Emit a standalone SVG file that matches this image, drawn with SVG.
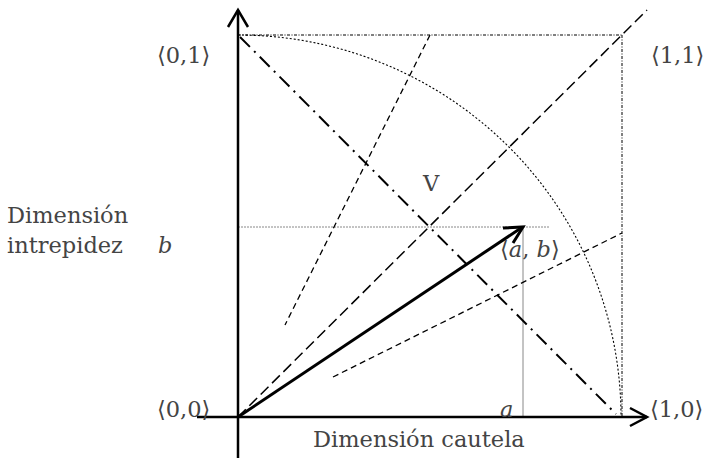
<svg xmlns="http://www.w3.org/2000/svg" width="705" height="460" viewBox="0 0 705 460">
<style>
text{font-family:"DejaVu Serif","Liberation Serif",serif;font-size:22.5px;fill:#444}
.it{font-style:italic}
.ax{stroke:#000;stroke-width:2.5;fill:none}
.guide{stroke:#000;stroke-width:1;fill:none;stroke-dasharray:3,1.5,1,1.5}
.arc{stroke:#000;stroke-width:1.1;fill:none;stroke-dasharray:2,2}
.gray{stroke:#888;stroke-width:1;fill:none}
.gdot{stroke:#888;stroke-width:1;fill:none;stroke-dasharray:2,1}
.dd{stroke:#000;stroke-width:2;fill:none;stroke-dasharray:14,6,2,6}
.ld{stroke:#000;stroke-width:1.5;fill:none;stroke-dasharray:11,5}
.sd{stroke:#000;stroke-width:1.3;fill:none;stroke-dasharray:6,4}
</style>
<rect width="705" height="460" fill="#fff"/>
<g id="connectors">
<path class="arc" d="M238,35 A383,382 0 0 1 621,417"/>
<line class="guide" x1="238" y1="35" x2="622" y2="35"/>
<line class="guide" x1="622" y1="35" x2="622" y2="417"/>
<line class="gdot" x1="238" y1="227" x2="550" y2="227"/>
<line class="gray" x1="523" y1="227" x2="523" y2="417"/>
<line class="dd" x1="240" y1="37" x2="616" y2="414"/>
<line class="ld" x1="238" y1="417" x2="647" y2="10"/>
<line class="sd" x1="430" y1="35" x2="285" y2="325"/>
<line class="sd" x1="333" y1="377" x2="622" y2="233"/>
<line class="ax" x1="238" y1="458" x2="238" y2="10"/>
<polyline class="ax" points="228,27 238,10 248,27"/>
<line class="ax" x1="197" y1="417" x2="647" y2="417"/>
<polyline class="ax" points="630,408 647,417 630,426"/>
<line stroke="#000" stroke-width="3" x1="238" y1="417" x2="521" y2="228"/>
<polyline stroke="#000" stroke-width="3" fill="none" points="503,228 523,227 513,243"/>
</g>
<g id="labels">
<text x="157" y="63">⟨0,1⟩</text>
<text x="651" y="63">⟨1,1⟩</text>
<text x="157" y="417">⟨0,0⟩</text>
<text x="650" y="417">⟨1,0⟩</text>
<text x="423" y="191">V</text>
<text x="500" y="257">⟨<tspan class="it">a</tspan>, <tspan class="it">b</tspan>⟩</text>
<text x="7" y="223">Dimensión</text>
<text x="7" y="253">intrepidez</text>
<text class="it" x="158" y="253">b</text>
<text class="it" x="500" y="417">a</text>
<text x="313" y="447">Dimensión cautela</text>
</g>
</svg>
